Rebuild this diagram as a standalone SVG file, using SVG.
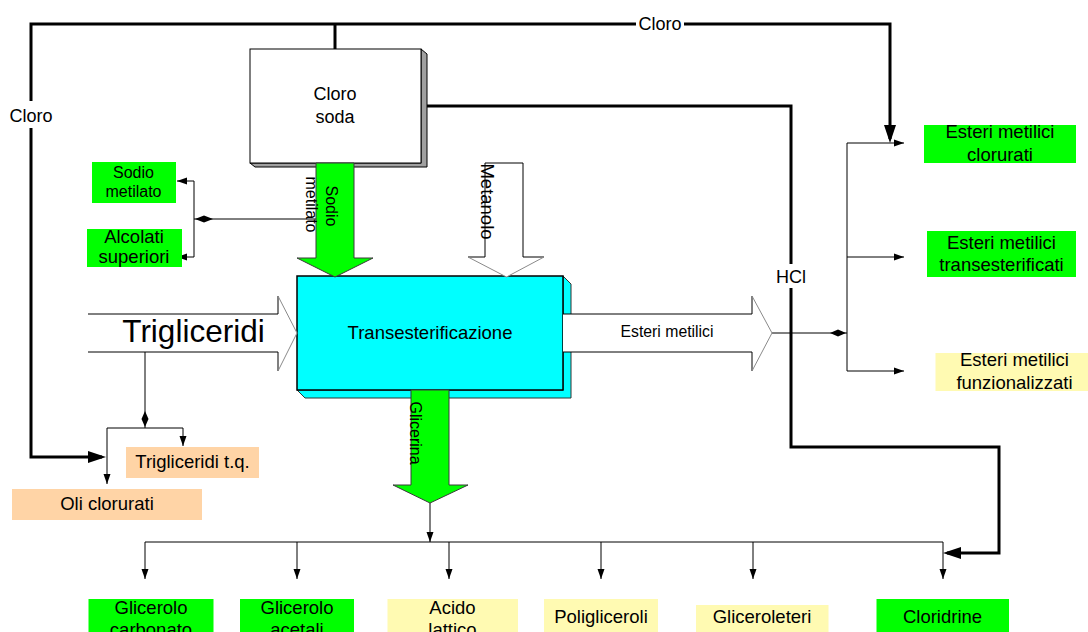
<svg xmlns="http://www.w3.org/2000/svg" width="1088" height="632" viewBox="0 0 1088 632">
<defs>
<style>
.t{font-family:"Liberation Sans",Arial,sans-serif;fill:#000;}
.thin{stroke:#000;stroke-width:1;fill:none;}
.thick{stroke:#000;stroke-width:3;fill:none;}
.grn{fill:#00ff00;}
.pch{fill:#ffd4a6;}
.yel{fill:#fffab2;}
.edge{stroke:#000;stroke-width:1;fill:none;}
.hd{stroke:#8a8a8a;stroke-width:1;fill:none;}
.gflow{fill:#00ff00;stroke:#3a3a3a;stroke-width:1;}
</style>
<marker id="ah" markerUnits="userSpaceOnUse" markerWidth="10" markerHeight="8" refX="10" refY="4" orient="auto"><path d="M0,0.5 L10,4 L0,7.5 z" fill="#000"/></marker>
<marker id="ahk" markerUnits="userSpaceOnUse" markerWidth="18" markerHeight="12" refX="14" refY="6" orient="auto"><path d="M0,0 L18,6 L0,12 z" fill="#000"/></marker>
</defs>
<rect x="0" y="0" width="1088" height="632" fill="#fff"/>

<g id="connectors">
  <path class="thick" d="M335,49 V24"/>
  <path class="thick" d="M335,24 H31 V457 H102" marker-end="url(#ahk)"/>
  <path class="thick" d="M335,24 H890 V139" marker-end="url(#ahk)"/>
  <path class="thick" d="M421,106 H791 V447 H999 V553 H947" marker-end="url(#ahk)"/>
  <!-- Sodio metilato branch -->
  <path class="thin" d="M316,219 H194"/>
  <path class="thin" d="M194,219 V181 H177" marker-end="url(#ah)"/>
  <path class="thin" d="M194,219 V257 H177" marker-end="url(#ah)"/>
  <polygon points="195,219 204,215.5 213,219 204,222.5" fill="#000"/>
  <!-- Trigliceridi branch -->
  <path class="thin" d="M145,352 V428"/>
  <polygon points="145,411 148.5,419 145,427 141.5,419" fill="#000"/>
  <path class="thin" d="M107,428 H183 V446" marker-end="url(#ah)"/>
  <path class="thin" d="M107,428 V484" marker-end="url(#ah)"/>
  <!-- Esteri metilici branch -->
  <path class="thin" d="M772,333 H847"/>
  <polygon points="830,333 838,329.5 846,333 838,336.5" fill="#000"/>
  <path class="thin" d="M847,143 V371"/>
  <path class="thin" d="M847,143 H904" marker-end="url(#ah)"/>
  <path class="thin" d="M847,257 H904" marker-end="url(#ah)"/>
  <path class="thin" d="M847,371 H904" marker-end="url(#ah)"/>
  <!-- Glicerina branch -->
  <path class="thin" d="M430,503 V542" marker-end="url(#ah)"/>
  <path class="thin" d="M145,542 H943"/>
  <path class="thin" d="M145,542 V579" marker-end="url(#ah)"/>
  <path class="thin" d="M297,542 V579" marker-end="url(#ah)"/>
  <path class="thin" d="M449,542 V579" marker-end="url(#ah)"/>
  <path class="thin" d="M601,542 V579" marker-end="url(#ah)"/>
  <path class="thin" d="M753,542 V579" marker-end="url(#ah)"/>
  <path class="thin" d="M943,542 V579" marker-end="url(#ah)"/>
  <!-- line labels -->
  <rect x="636" y="13" width="48" height="21" fill="#fff"/>
  <text class="t" x="660" y="29.5" font-size="18" text-anchor="middle">Cloro</text>
  <rect x="8" y="101" width="46" height="27" fill="#fff"/>
  <text class="t" x="31" y="121.5" font-size="18" text-anchor="middle">Cloro</text>
  <rect x="774" y="264" width="34" height="24" fill="#fff"/>
  <text class="t" x="791" y="283" font-size="18" text-anchor="middle">HCl</text>
</g>

<g id="node-cloro-soda">
  <polygon points="421,49 427,54 427,167 255,167 250,163 421,163" fill="#a0a0a0" stroke="#000" stroke-width="1"/>
  <rect x="250" y="49" width="171" height="114" fill="#fff" stroke="#000" stroke-width="1"/>
  <text class="t" x="335" y="100" font-size="18" text-anchor="middle">Cloro</text>
  <text class="t" x="335" y="122.5" font-size="18" text-anchor="middle">soda</text>
</g>

<g id="node-transesterificazione">
  <polygon points="563,276 571,284 571,398 305,398 297,390 563,390" fill="#00ffff" stroke="#333" stroke-width="1"/>
  <rect x="297" y="276" width="266" height="114" fill="#00ffff" stroke="#000" stroke-width="1.5"/>
  <text class="t" x="430" y="339" font-size="18.5" text-anchor="middle">Transesterificazione</text>
</g>

<g id="flow-arrows">
  <g id="flow-sodio-metilato">
    <polygon class="gflow" points="316,163 354,163 354,258 373,258 335,277 297,258 316,258"/>
    <text class="t" transform="translate(326,206) rotate(90)" font-size="16" text-anchor="middle">Sodio</text>
    <text class="t" transform="translate(305.5,204.5) rotate(90)" font-size="16" text-anchor="middle">metilato</text>
  </g>
  <g id="flow-metanolo">
    <polygon points="485,163 523,163 523,257 544,257 506.5,277 468,257 485,257" fill="#fff"/>
    <path class="edge" d="M485,257 V163 H523 V257 H544 M485,257 H468"/>
    <path class="hd" d="M468,257 L506.5,277 L544,257"/>
    <text class="t" transform="translate(481,201.5) rotate(90)" font-size="18.5" text-anchor="middle">Metanolo</text>
  </g>
  <g id="flow-trigliceridi">
    <polygon points="88,314 278,314 278,296 297,333 278,371 278,352 88,352" fill="#fff"/>
    <path class="edge" d="M88,314 H278 V296 M88,352 H278 V371"/>
    <path class="hd" d="M278,296 L297,333 L278,371"/>
    <text class="t" x="193.5" y="342" font-size="31.5" text-anchor="middle">Trigliceridi</text>
  </g>
  <g id="flow-esteri-metilici">
    <polygon points="563,314 752,314 752,296 772,333 752,371 752,352 563,352" fill="#fff"/>
    <path class="edge" d="M563,314 H752 V296 M563,352 H752 V371"/>
    <path class="hd" d="M752,296 L772,333 L752,371"/>
    <text class="t" x="667" y="337" font-size="15.8" text-anchor="middle">Esteri metilici</text>
  </g>
  <g id="flow-glicerina">
    <polygon class="gflow" points="411,390 449,390 449,485 468,485 430,503 393,485 411,485"/>
    <text class="t" transform="translate(410,433) rotate(90)" font-size="16" text-anchor="middle">Glicerina</text>
  </g>
</g>

<g id="node-sodio-metilato">
  <rect class="grn" x="92" y="162" width="84" height="41"/>
  <text class="t" x="133.5" y="178" font-size="16" text-anchor="middle">Sodio</text>
  <text class="t" x="133.5" y="197" font-size="16" text-anchor="middle">metilato</text>
</g>
<g id="node-alcolati-superiori">
  <rect class="grn" x="87" y="229" width="95" height="38"/>
  <text class="t" x="134" y="242.5" font-size="18.5" text-anchor="middle">Alcolati</text>
  <text class="t" x="134" y="262.5" font-size="18.5" text-anchor="middle">superiori</text>
</g>
<g id="node-trigliceridi-tq">
  <rect class="pch" x="126" y="447" width="133" height="31"/>
  <text class="t" x="192.5" y="468" font-size="18.5" text-anchor="middle">Trigliceridi t.q.</text>
</g>
<g id="node-oli-clorurati">
  <rect class="pch" x="12" y="489" width="190" height="31"/>
  <text class="t" x="107" y="510" font-size="18.5" text-anchor="middle">Oli clorurati</text>
</g>
<g id="node-esteri-clorurati">
  <rect class="grn" x="924" y="125" width="152" height="38"/>
  <text class="t" x="1000" y="138" font-size="18.5" text-anchor="middle">Esteri metilici</text>
  <text class="t" x="1000" y="160.5" font-size="18.5" text-anchor="middle">clorurati</text>
</g>
<g id="node-esteri-transesterificati">
  <rect class="grn" x="927" y="231" width="149" height="46"/>
  <text class="t" x="1001.5" y="248.5" font-size="18.5" text-anchor="middle">Esteri metilici</text>
  <text class="t" x="1001.5" y="271" font-size="18.5" text-anchor="middle">transesterificati</text>
</g>
<g id="node-esteri-funzionalizzati">
  <rect class="yel" x="935.5" y="353" width="153" height="38"/>
  <text class="t" x="1014.5" y="366" font-size="18.5" text-anchor="middle">Esteri metilici</text>
  <text class="t" x="1014.5" y="388.5" font-size="18.5" text-anchor="middle">funzionalizzati</text>
</g>
<g id="node-glicerolo-carbonato">
  <rect class="grn" x="88.5" y="599" width="125" height="45"/>
  <text class="t" x="151" y="613.5" font-size="18.5" text-anchor="middle">Glicerolo</text>
  <text class="t" x="151" y="636" font-size="18.5" text-anchor="middle">carbonato</text>
</g>
<g id="node-glicerolo-acetali">
  <rect class="grn" x="240" y="599" width="114" height="45"/>
  <text class="t" x="297" y="613.5" font-size="18.5" text-anchor="middle">Glicerolo</text>
  <text class="t" x="297" y="636" font-size="18.5" text-anchor="middle">acetali</text>
</g>
<g id="node-acido-lattico">
  <rect class="yel" x="387.5" y="599" width="130.5" height="45"/>
  <text class="t" x="452.5" y="613.5" font-size="18.5" text-anchor="middle">Acido</text>
  <text class="t" x="452.5" y="636" font-size="18.5" text-anchor="middle">lattico</text>
</g>
<g id="node-poligliceroli">
  <rect class="yel" x="544" y="599" width="114" height="45"/>
  <text class="t" x="601" y="622.5" font-size="18.5" text-anchor="middle">Poligliceroli</text>
</g>
<g id="node-gliceroleteri">
  <rect class="yel" x="696" y="605" width="132.5" height="39"/>
  <text class="t" x="762" y="622.5" font-size="18.5" text-anchor="middle">Gliceroleteri</text>
</g>
<g id="node-cloridrine">
  <rect class="grn" x="876.5" y="599" width="132.5" height="45"/>
  <text class="t" x="942.5" y="622.5" font-size="18.5" text-anchor="middle">Cloridrine</text>
</g>
</svg>
